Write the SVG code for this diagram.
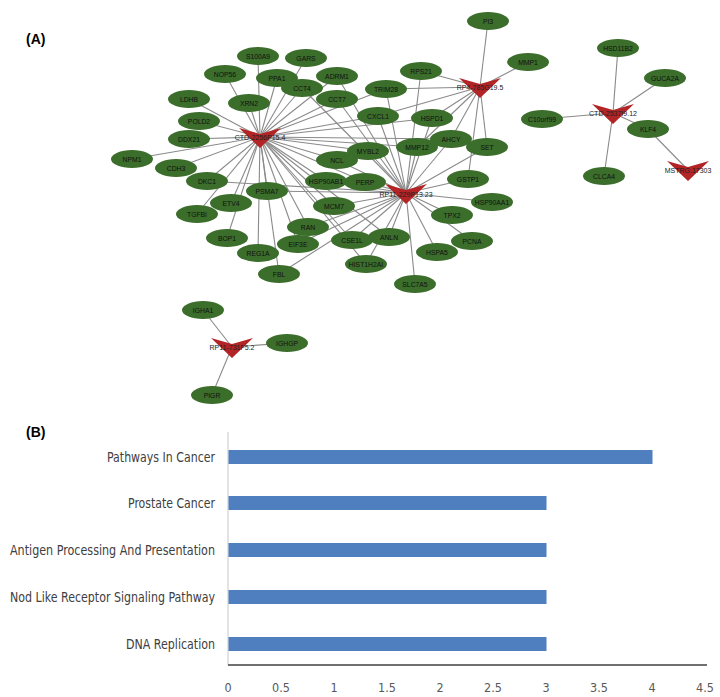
<svg xmlns="http://www.w3.org/2000/svg" width="720" height="697" viewBox="0 0 720 697">
<style>
.bg{fill:#ffffff}
.e{stroke:#8a8a8a;stroke-width:1.1;fill:none}
.n use{fill:#3b6d2b}
.n text{font-family:"Liberation Sans",Arial,sans-serif;font-size:6.8px;fill:#111;text-anchor:middle}
.h use{fill:#b32426}
.h text{font-family:"Liberation Sans",Arial,sans-serif;font-size:7px;fill:#222;text-anchor:middle}
.pl{font-family:"Liberation Sans",Arial,sans-serif;font-size:14px;font-weight:bold;fill:#000}
.cl{font-family:"Liberation Sans Narrow","DejaVu Sans Condensed","Liberation Sans",sans-serif;font-size:13.5px;fill:#404040;text-anchor:end}
.tk{font-family:"Liberation Sans Narrow","DejaVu Sans Condensed","Liberation Sans",sans-serif;font-size:12.5px;fill:#595959;text-anchor:middle}
.bar{fill:#4f7fbe}
</style>
<defs>
<ellipse id="ov" rx="21" ry="9"/>
<path id="tri" d="M-21,-9 L0,-3 L21,-9 L0,11 Z"/>
</defs>
<rect class="bg" width="720" height="697"/>
<text class="pl" x="26" y="44">(A)</text>
<text class="pl" x="26" y="437">(B)</text>

<g id="connectors">
<line class="e" x1="260" y1="137" x2="258" y2="56"/>
<line class="e" x1="260" y1="137" x2="225" y2="74"/>
<line class="e" x1="260" y1="137" x2="277" y2="78"/>
<line class="e" x1="260" y1="137" x2="306" y2="58"/>
<line class="e" x1="260" y1="137" x2="302" y2="88"/>
<line class="e" x1="260" y1="137" x2="337" y2="76"/>
<line class="e" x1="260" y1="137" x2="337" y2="99"/>
<line class="e" x1="260" y1="137" x2="249" y2="103"/>
<line class="e" x1="260" y1="137" x2="189" y2="99"/>
<line class="e" x1="260" y1="137" x2="199" y2="121"/>
<line class="e" x1="260" y1="137" x2="189" y2="139"/>
<line class="e" x1="260" y1="137" x2="132" y2="159"/>
<line class="e" x1="260" y1="137" x2="176" y2="168"/>
<line class="e" x1="260" y1="137" x2="207" y2="181"/>
<line class="e" x1="260" y1="137" x2="231" y2="203"/>
<line class="e" x1="260" y1="137" x2="197" y2="214"/>
<line class="e" x1="260" y1="137" x2="227" y2="238"/>
<line class="e" x1="260" y1="137" x2="267" y2="191"/>
<line class="e" x1="260" y1="137" x2="258" y2="253"/>
<line class="e" x1="260" y1="137" x2="279" y2="274"/>
<line class="e" x1="260" y1="137" x2="298" y2="244"/>
<line class="e" x1="260" y1="137" x2="308" y2="227"/>
<line class="e" x1="260" y1="137" x2="334" y2="206"/>
<line class="e" x1="260" y1="137" x2="326" y2="181"/>
<line class="e" x1="260" y1="137" x2="337" y2="160"/>
<line class="e" x1="260" y1="137" x2="368" y2="151"/>
<line class="e" x1="260" y1="137" x2="352" y2="240"/>
<line class="e" x1="260" y1="137" x2="389" y2="237"/>
<line class="e" x1="260" y1="137" x2="365" y2="182"/>
<line class="e" x1="260" y1="137" x2="366" y2="264"/>
<line class="e" x1="260" y1="137" x2="386" y2="89"/>
<line class="e" x1="260" y1="137" x2="378" y2="116"/>
<line class="e" x1="260" y1="137" x2="432" y2="118"/>
<line class="e" x1="260" y1="137" x2="451" y2="139"/>
<line class="e" x1="260" y1="137" x2="417" y2="147"/>
<line class="e" x1="406" y1="193" x2="368" y2="151"/>
<line class="e" x1="406" y1="193" x2="417" y2="147"/>
<line class="e" x1="406" y1="193" x2="487" y2="147"/>
<line class="e" x1="406" y1="193" x2="468" y2="179"/>
<line class="e" x1="406" y1="193" x2="492" y2="202"/>
<line class="e" x1="406" y1="193" x2="452" y2="215"/>
<line class="e" x1="406" y1="193" x2="472" y2="241"/>
<line class="e" x1="406" y1="193" x2="437" y2="252"/>
<line class="e" x1="406" y1="193" x2="415" y2="284"/>
<line class="e" x1="406" y1="193" x2="389" y2="237"/>
<line class="e" x1="406" y1="193" x2="352" y2="240"/>
<line class="e" x1="406" y1="193" x2="366" y2="264"/>
<line class="e" x1="406" y1="193" x2="334" y2="206"/>
<line class="e" x1="406" y1="193" x2="365" y2="182"/>
<line class="e" x1="406" y1="193" x2="337" y2="160"/>
<line class="e" x1="406" y1="193" x2="326" y2="181"/>
<line class="e" x1="406" y1="193" x2="308" y2="227"/>
<line class="e" x1="406" y1="193" x2="298" y2="244"/>
<line class="e" x1="406" y1="193" x2="279" y2="274"/>
<line class="e" x1="406" y1="193" x2="267" y2="191"/>
<line class="e" x1="406" y1="193" x2="337" y2="99"/>
<line class="e" x1="406" y1="193" x2="337" y2="76"/>
<line class="e" x1="406" y1="193" x2="302" y2="88"/>
<line class="e" x1="406" y1="193" x2="378" y2="116"/>
<line class="e" x1="406" y1="193" x2="386" y2="89"/>
<line class="e" x1="406" y1="193" x2="421" y2="71"/>
<line class="e" x1="406" y1="193" x2="432" y2="118"/>
<line class="e" x1="406" y1="193" x2="451" y2="139"/>
<line class="e" x1="406" y1="193" x2="207" y2="181"/>
<line class="e" x1="480" y1="87" x2="488" y2="21"/>
<line class="e" x1="480" y1="87" x2="528" y2="62"/>
<line class="e" x1="480" y1="87" x2="421" y2="71"/>
<line class="e" x1="480" y1="87" x2="386" y2="89"/>
<line class="e" x1="480" y1="87" x2="378" y2="116"/>
<line class="e" x1="480" y1="87" x2="432" y2="118"/>
<line class="e" x1="480" y1="87" x2="451" y2="139"/>
<line class="e" x1="480" y1="87" x2="487" y2="147"/>
<line class="e" x1="480" y1="87" x2="417" y2="147"/>
<line class="e" x1="480" y1="87" x2="468" y2="179"/>
<line class="e" x1="613" y1="113" x2="618" y2="48"/>
<line class="e" x1="613" y1="113" x2="665" y2="78"/>
<line class="e" x1="613" y1="113" x2="542" y2="119"/>
<line class="e" x1="613" y1="113" x2="648" y2="129"/>
<line class="e" x1="613" y1="113" x2="604" y2="176"/>
<line class="e" x1="688" y1="170" x2="648" y2="129"/>
<line class="e" x1="232" y1="347" x2="203" y2="310"/>
<line class="e" x1="232" y1="347" x2="287" y2="343"/>
<line class="e" x1="232" y1="347" x2="212" y2="395"/>
</g>

<g id="S100A9" class="n"><use href="#ov" x="258" y="56"/><text x="258" y="58.5">S100A9</text></g>
<g id="GARS" class="n"><use href="#ov" x="306" y="58"/><text x="306" y="60.5">GARS</text></g>
<g id="NOP56" class="n"><use href="#ov" x="225" y="74"/><text x="225" y="76.5">NOP56</text></g>
<g id="ADRM1" class="n"><use href="#ov" x="337" y="76"/><text x="337" y="78.5">ADRM1</text></g>
<g id="PPA1" class="n"><use href="#ov" x="277" y="78"/><text x="277" y="80.5">PPA1</text></g>
<g id="CCT4" class="n"><use href="#ov" x="302" y="88"/><text x="302" y="90.5">CCT4</text></g>
<g id="CCT7" class="n"><use href="#ov" x="337" y="99"/><text x="337" y="101.5">CCT7</text></g>
<g id="LDHB" class="n"><use href="#ov" x="189" y="99"/><text x="189" y="101.5">LDHB</text></g>
<g id="XRN2" class="n"><use href="#ov" x="249" y="103"/><text x="249" y="105.5">XRN2</text></g>
<g id="POLD2" class="n"><use href="#ov" x="199" y="121"/><text x="199" y="123.5">POLD2</text></g>
<g id="DDX21" class="n"><use href="#ov" x="189" y="139"/><text x="189" y="141.5">DDX21</text></g>
<g id="NPM1" class="n"><use href="#ov" x="132" y="159"/><text x="132" y="161.5">NPM1</text></g>
<g id="CDH3" class="n"><use href="#ov" x="176" y="168"/><text x="176" y="170.5">CDH3</text></g>
<g id="DKC1" class="n"><use href="#ov" x="207" y="181"/><text x="207" y="183.5">DKC1</text></g>
<g id="PSMA7" class="n"><use href="#ov" x="267" y="191"/><text x="267" y="193.5">PSMA7</text></g>
<g id="ETV4" class="n"><use href="#ov" x="231" y="203"/><text x="231" y="205.5">ETV4</text></g>
<g id="TGFBI" class="n"><use href="#ov" x="197" y="214"/><text x="197" y="216.5">TGFBI</text></g>
<g id="BOP1" class="n"><use href="#ov" x="227" y="238"/><text x="227" y="240.5">BOP1</text></g>
<g id="REG1A" class="n"><use href="#ov" x="258" y="253"/><text x="258" y="255.5">REG1A</text></g>
<g id="FBL" class="n"><use href="#ov" x="279" y="274"/><text x="279" y="276.5">FBL</text></g>
<g id="RAN" class="n"><use href="#ov" x="308" y="227"/><text x="308" y="229.5">RAN</text></g>
<g id="EIF3E" class="n"><use href="#ov" x="298" y="244"/><text x="298" y="246.5">EIF3E</text></g>
<g id="PI3" class="n"><use href="#ov" x="488" y="21"/><text x="488" y="23.5">PI3</text></g>
<g id="MMP1" class="n"><use href="#ov" x="528" y="62"/><text x="528" y="64.5">MMP1</text></g>
<g id="RPS21" class="n"><use href="#ov" x="421" y="71"/><text x="421" y="73.5">RPS21</text></g>
<g id="TRIM28" class="n"><use href="#ov" x="386" y="89"/><text x="386" y="91.5">TRIM28</text></g>
<g id="CXCL1" class="n"><use href="#ov" x="378" y="116"/><text x="378" y="118.5">CXCL1</text></g>
<g id="HSPD1" class="n"><use href="#ov" x="432" y="118"/><text x="432" y="120.5">HSPD1</text></g>
<g id="AHCY" class="n"><use href="#ov" x="451" y="139"/><text x="451" y="141.5">AHCY</text></g>
<g id="MMP12" class="n"><use href="#ov" x="417" y="147"/><text x="417" y="149.5">MMP12</text></g>
<g id="SET" class="n"><use href="#ov" x="487" y="147"/><text x="487" y="149.5">SET</text></g>
<g id="MYBL2" class="n"><use href="#ov" x="368" y="151"/><text x="368" y="153.5">MYBL2</text></g>
<g id="NCL" class="n"><use href="#ov" x="337" y="160"/><text x="337" y="162.5">NCL</text></g>
<g id="GSTP1" class="n"><use href="#ov" x="468" y="179"/><text x="468" y="181.5">GSTP1</text></g>
<g id="HSP90AB1" class="n"><use href="#ov" x="326" y="181"/><text x="326" y="183.5">HSP90AB1</text></g>
<g id="PERP" class="n"><use href="#ov" x="365" y="182"/><text x="365" y="184.5">PERP</text></g>
<g id="HSP90AA1" class="n"><use href="#ov" x="492" y="202"/><text x="492" y="204.5">HSP90AA1</text></g>
<g id="MCM7" class="n"><use href="#ov" x="334" y="206"/><text x="334" y="208.5">MCM7</text></g>
<g id="TPX2" class="n"><use href="#ov" x="452" y="215"/><text x="452" y="217.5">TPX2</text></g>
<g id="ANLN" class="n"><use href="#ov" x="389" y="237"/><text x="389" y="239.5">ANLN</text></g>
<g id="CSE1L" class="n"><use href="#ov" x="352" y="240"/><text x="352" y="242.5">CSE1L</text></g>
<g id="PCNA" class="n"><use href="#ov" x="472" y="241"/><text x="472" y="243.5">PCNA</text></g>
<g id="HSPA5" class="n"><use href="#ov" x="437" y="252"/><text x="437" y="254.5">HSPA5</text></g>
<g id="HIST1H2AI" class="n"><use href="#ov" x="366" y="264"/><text x="366" y="266.5">HIST1H2AI</text></g>
<g id="SLC7A5" class="n"><use href="#ov" x="415" y="284"/><text x="415" y="286.5">SLC7A5</text></g>
<g id="HSD11B2" class="n"><use href="#ov" x="618" y="48"/><text x="618" y="50.5">HSD11B2</text></g>
<g id="GUCA2A" class="n"><use href="#ov" x="665" y="78"/><text x="665" y="80.5">GUCA2A</text></g>
<g id="C10orf99" class="n"><use href="#ov" x="542" y="119"/><text x="542" y="121.5">C10orf99</text></g>
<g id="KLF4" class="n"><use href="#ov" x="648" y="129"/><text x="648" y="131.5">KLF4</text></g>
<g id="CLCA4" class="n"><use href="#ov" x="604" y="176"/><text x="604" y="178.5">CLCA4</text></g>
<g id="IGHA1" class="n"><use href="#ov" x="203" y="310"/><text x="203" y="312.5">IGHA1</text></g>
<g id="IGHGP" class="n"><use href="#ov" x="287" y="343"/><text x="287" y="345.5">IGHGP</text></g>
<g id="PIGR" class="n"><use href="#ov" x="212" y="395"/><text x="212" y="397.5">PIGR</text></g>

<g id="CTD-2256P15.4" class="h"><use href="#tri" x="260" y="137"/><text x="260" y="140">CTD-2256P15.4</text></g>
<g id="RP4-785G19.5" class="h"><use href="#tri" x="480" y="87"/><text x="480" y="90">RP4-785G19.5</text></g>
<g id="RP11-229P13.23" class="h"><use href="#tri" x="406" y="193"/><text x="406" y="197">RP11-229P13.23</text></g>
<g id="CTD-2537I9.12" class="h"><use href="#tri" x="613" y="113"/><text x="613" y="116">CTD-2537I9.12</text></g>
<g id="MSTRG.17303" class="h"><use href="#tri" x="688" y="170"/><text x="688" y="173">MSTRG.17303</text></g>
<g id="RP11-731F5.2" class="h"><use href="#tri" x="232" y="347"/><text x="232" y="350">RP11-731F5.2</text></g>

<g id="chart">
<line x1="228" y1="432" x2="228" y2="665" stroke="#d0d0d0" stroke-width="1.2"/>
<rect class="bar" x="228.5" y="450" width="424" height="14"/>
<rect class="bar" x="228.5" y="496" width="318" height="14"/>
<rect class="bar" x="228.5" y="543" width="318" height="14"/>
<rect class="bar" x="228.5" y="590" width="318" height="14"/>
<rect class="bar" x="228.5" y="637" width="318" height="14"/>
<line x1="228" y1="665" x2="707" y2="665" stroke="#404040" stroke-width="1.6"/>
<text class="cl" x="215" y="461.5" textLength="108" lengthAdjust="spacingAndGlyphs">Pathways In Cancer</text>
<text class="cl" x="215" y="508" textLength="87" lengthAdjust="spacingAndGlyphs">Prostate Cancer</text>
<text class="cl" x="215" y="555" textLength="205" lengthAdjust="spacingAndGlyphs">Antigen Processing And Presentation</text>
<text class="cl" x="215" y="602" textLength="205" lengthAdjust="spacingAndGlyphs">Nod Like Receptor Signaling Pathway</text>
<text class="cl" x="215" y="649" textLength="89" lengthAdjust="spacingAndGlyphs">DNA Replication</text>
<text class="tk" x="228" y="692">0</text>
<text class="tk" x="281" y="692">0.5</text>
<text class="tk" x="334" y="692">1</text>
<text class="tk" x="387" y="692">1.5</text>
<text class="tk" x="440" y="692">2</text>
<text class="tk" x="493" y="692">2.5</text>
<text class="tk" x="546" y="692">3</text>
<text class="tk" x="599" y="692">3.5</text>
<text class="tk" x="652" y="692">4</text>
<text class="tk" x="705" y="692">4.5</text>
</g>
</svg>
